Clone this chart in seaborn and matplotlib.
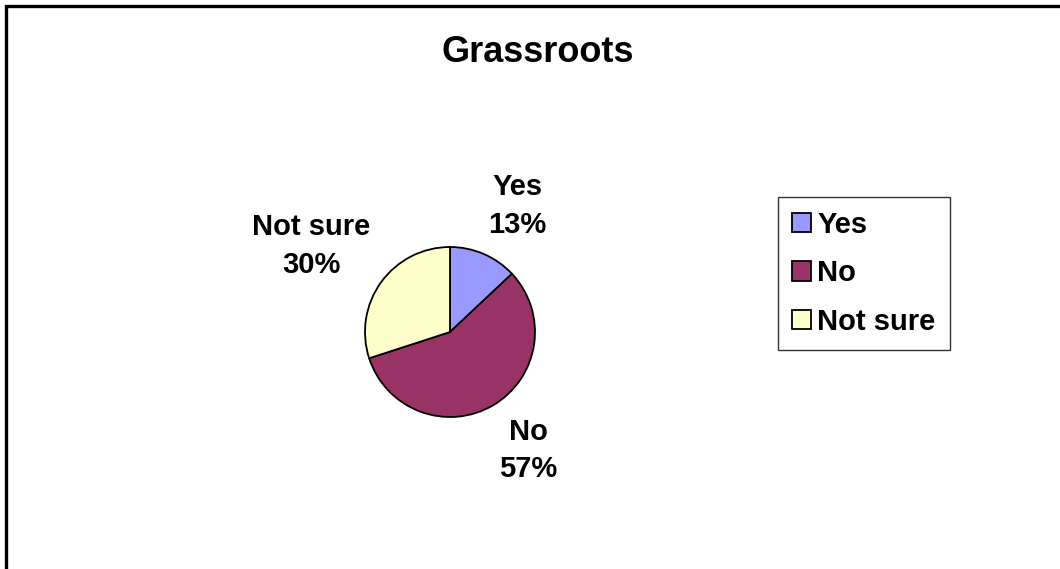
import numpy as np
import matplotlib
matplotlib.use("Agg")
import matplotlib.pyplot as plt
from matplotlib.patches import Rectangle
import seaborn as sns

# Survey answers for the "Grassroots" question
categories = ["Yes", "No", "Not sure"]
shares = [13, 57, 30]
colors = ["#9999FF", "#993366", "#FFFFCC"]
title = "Grassroots"

sns.set_style("white")
plt.rcParams["font.family"] = ["Liberation Sans", "DejaVu Sans"]
plt.rcParams["text.color"] = "black"

W, H = 1060, 569
fig = plt.figure(figsize=(W / 100, H / 100), dpi=100)
fig.patch.set_facecolor("white")

# pie axes: centre (450, 332) px, radius 85 px
cx, cy, r = 450, 332, 85
ax = fig.add_axes([(cx - r) / W, (H - cy - r) / H, 2 * r / W, 2 * r / H])
wedges, _ = ax.pie(
    shares, colors=colors, startangle=90, counterclock=False, radius=1,
    wedgeprops=dict(edgecolor="black", linewidth=1.3),
)
ax.set_xlim(-1, 1)
ax.set_ylim(-1, 1)
ax.set_aspect("equal")
ax.axis("off")

# category + percentage labels outside each wedge
label_dist = [1.62, 1.62, 1.72]
label_dx = [0.15, 0.10, -0.24]
for w, cat, val, d, dx in zip(wedges, categories, shares, label_dist, label_dx):
    mid = np.deg2rad((w.theta1 + w.theta2) / 2)
    ax.text(d * np.cos(mid) + dx, d * np.sin(mid), f"{cat}\n{val}%",
            ha="center", va="center", fontsize=21, fontweight="bold",
            linespacing=1.45, clip_on=False)

fig.text(538 / W, 1 - 53 / H, title, ha="center", va="center",
         fontsize=26, fontweight="bold")

leg = fig.legend(
    wedges, categories, loc="upper left",
    bbox_to_anchor=(778 / W, 1 - 197 / H), bbox_transform=fig.transFigure,
    prop=dict(size=21, weight="bold"), frameon=True, fancybox=False,
    edgecolor="black", handlelength=0.65, handleheight=0.65, handletextpad=0.22,
    labelspacing=0.7, borderpad=0.48, borderaxespad=0,
)
leg.get_frame().set_linewidth(1.0)
for h in leg.legend_handles:
    h.set_edgecolor("black")
    h.set_linewidth(1.3)

# outer chart frame
fig.add_artist(Rectangle((6 / W, -0.1), 1.2, 1.1 - 6 / H, transform=fig.transFigure,
                         fill=False, edgecolor="black", linewidth=2.4))

fig.savefig("out.png", dpi=100)
